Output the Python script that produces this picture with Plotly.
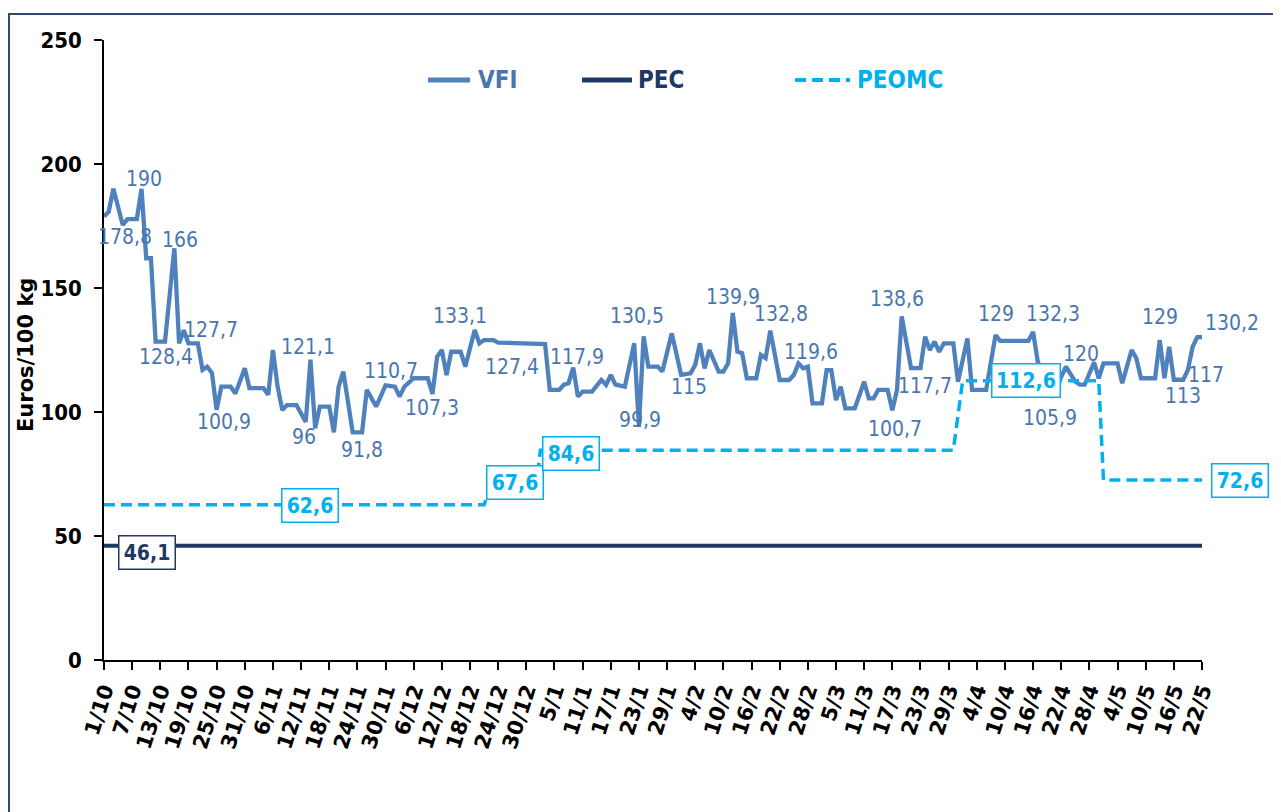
import plotly.graph_objects as go
import pandas as pd

# ---------------- data ----------------
vfi_dates = [
    "2023-10-01", "2023-10-02", "2023-10-03", "2023-10-05", "2023-10-06", "2023-10-08", "2023-10-09",
    "2023-10-10", "2023-10-11", "2023-10-12", "2023-10-14", "2023-10-16", "2023-10-17", "2023-10-18",
    "2023-10-19", "2023-10-21", "2023-10-22", "2023-10-23", "2023-10-24", "2023-10-25", "2023-10-26",
    "2023-10-28", "2023-10-29", "2023-10-31", "2023-11-01", "2023-11-04", "2023-11-05", "2023-11-06",
    "2023-11-07", "2023-11-08", "2023-11-09", "2023-11-11", "2023-11-13", "2023-11-14", "2023-11-15",
    "2023-11-16", "2023-11-18", "2023-11-19", "2023-11-20", "2023-11-21", "2023-11-23", "2023-11-25",
    "2023-11-26", "2023-11-28", "2023-11-30", "2023-12-02", "2023-12-03", "2023-12-04", "2023-12-06",
    "2023-12-09", "2023-12-10", "2023-12-11", "2023-12-12", "2023-12-13", "2023-12-14", "2023-12-16",
    "2023-12-17", "2023-12-19", "2023-12-20", "2023-12-21", "2023-12-23", "2023-12-24", "2024-01-03",
    "2024-01-04", "2024-01-06", "2024-01-07", "2024-01-08", "2024-01-09", "2024-01-10", "2024-01-11",
    "2024-01-13", "2024-01-15", "2024-01-16", "2024-01-17", "2024-01-18", "2024-01-20", "2024-01-22",
    "2024-01-23", "2024-01-24", "2024-01-25", "2024-01-27", "2024-01-28", "2024-01-30", "2024-01-31",
    "2024-02-01", "2024-02-03", "2024-02-04", "2024-02-05", "2024-02-06", "2024-02-07", "2024-02-09",
    "2024-02-10", "2024-02-11", "2024-02-12", "2024-02-13", "2024-02-14", "2024-02-15", "2024-02-17",
    "2024-02-18", "2024-02-19", "2024-02-20", "2024-02-22", "2024-02-24", "2024-02-25", "2024-02-26",
    "2024-02-27", "2024-02-28", "2024-02-29", "2024-03-02", "2024-03-03", "2024-03-04", "2024-03-05",
    "2024-03-06", "2024-03-07", "2024-03-09", "2024-03-11", "2024-03-12", "2024-03-13", "2024-03-14",
    "2024-03-16", "2024-03-17", "2024-03-18", "2024-03-19", "2024-03-21", "2024-03-23", "2024-03-24",
    "2024-03-25", "2024-03-26", "2024-03-27", "2024-03-28", "2024-03-30", "2024-03-31", "2024-04-02",
    "2024-04-03", "2024-04-06", "2024-04-08", "2024-04-09", "2024-04-15", "2024-04-16", "2024-04-17",
    "2024-04-20", "2024-04-23", "2024-04-24", "2024-04-25", "2024-04-26", "2024-04-27", "2024-04-29",
    "2024-04-30", "2024-05-01", "2024-05-04", "2024-05-05", "2024-05-07", "2024-05-08", "2024-05-09",
    "2024-05-12", "2024-05-13", "2024-05-14", "2024-05-15", "2024-05-16", "2024-05-18", "2024-05-19",
    "2024-05-20", "2024-05-21", "2024-05-22",
]
vfi_values = [
    178.8, 180.8, 190.0, 175.4, 177.8, 177.8, 190.0,
    162.0, 162.0, 128.4, 128.4, 166.0, 127.7, 133.0,
    127.7, 127.7, 117.0, 118.3, 115.7, 100.9, 110.2,
    110.2, 107.5, 117.6, 109.6, 109.6, 106.9, 125.0,
    110.2, 100.8, 102.8, 102.8, 96.0, 121.1, 93.4,
    102.2, 102.2, 91.8, 110.2, 116.3, 91.8, 91.8,
    108.9, 102.2, 110.7, 110.2, 106.2, 110.2, 113.6,
    113.6, 107.3, 122.3, 125.0, 114.9, 124.3, 124.3,
    118.3, 133.1, 127.7, 129.0, 129.0, 128.0, 127.4,
    108.9, 108.9, 111.0, 111.6, 117.9, 106.2, 108.2,
    108.2, 112.9, 111.0, 114.9, 111.0, 110.2, 127.7,
    94.0, 130.5, 118.3, 118.3, 116.3, 131.7, 122.3,
    115.0, 115.6, 119.0, 127.7, 117.6, 125.0, 116.3,
    116.3, 119.6, 139.9, 124.3, 123.7, 113.6, 113.6,
    123.0, 121.7, 132.8, 112.9, 112.9, 114.9, 119.6,
    117.6, 118.3, 103.5, 103.5, 116.9, 116.9, 104.8,
    110.2, 101.5, 101.5, 112.2, 105.5, 105.5, 108.9,
    108.9, 100.7, 108.9, 138.6, 117.7, 117.7, 130.4,
    125.0, 128.4, 124.3, 127.7, 127.7, 112.2, 129.7,
    108.9, 108.9, 131.0, 128.7, 128.7, 132.3, 120.3,
    105.9, 118.3, 114.9, 112.2, 111.0, 111.0, 120.0,
    113.6, 119.6, 119.6, 111.6, 125.0, 121.7, 113.6,
    113.6, 129.0, 113.6, 126.3, 113.0, 113.0, 117.0,
    126.3, 130.2, 130.2,
]

pec_dates = ["2023-10-01", "2024-05-22"]
pec_values = [46.1, 46.1]

peomc_dates = ["2023-10-01", "2023-12-21", "2023-12-22", "2024-01-01", "2024-01-02",
               "2024-03-30", "2024-04-01", "2024-04-30", "2024-05-01", "2024-05-22"]
peomc_values = [62.6, 62.6, 67.6, 67.6, 84.6, 84.6, 112.6, 112.6, 72.6, 72.6]

series_names = ["VFI", "PEC", "PEOMC"]
y_title = "Euros/100 kg"

# data labels of VFI: (date, text, x offset px, y offset px downwards)
vfi_label_dates = ["2023-10-01", "2023-10-09", "2023-10-16", "2023-10-14", "2023-10-19", "2023-10-25",
                   "2023-11-14", "2023-11-13", "2023-11-23", "2023-11-30", "2023-12-10", "2023-12-19",
                   "2023-12-24", "2024-01-09", "2024-01-24", "2024-01-23", "2024-02-01", "2024-02-12",
                   "2024-02-20", "2024-02-26", "2024-03-17", "2024-03-19", "2024-03-23", "2024-04-08",
                   "2024-04-16", "2024-04-29", "2024-04-20", "2024-05-13", "2024-05-18", "2024-05-19",
                   "2024-05-22"]
vfi_label_texts = ["178,8", "190", "166", "128,4", "127,7", "100,9",
                   "121,1", "96", "91,8", "110,7", "107,3", "133,1",
                   "127,4", "117,9", "130,5", "99,9", "115", "139,9",
                   "132,8", "119,6", "100,7", "138,6", "117,7", "129",
                   "132,3", "120", "105,9", "129", "113", "117",
                   "130,2"]
vfi_label_dx = [21, 2, 6, 1, 23, 7, -2, -2, 9, 5, 0, -15, 14, 4, -7, 1, 8, 0, 11, 13, 3, -5, 5, 0,
                20, -13, -2, 0, 0, 18, 30]
vfi_label_dy = [20, -10, -8, 15, -13, 12, -13, 15, 18, -14, 14, -14, 24, -11, -20, -7, 12, -16, -17, -11,
                19, -17, 18, -21, -18, -8, 21, -23, 16, 5, -14]

# boxed labels of the reference lines
box_label_series = ["PEC", "PEOMC", "PEOMC", "PEOMC", "PEOMC", "PEOMC"]
box_label_dates = ["2023-10-10", "2023-11-14", "2023-12-28", "2024-01-09", "2024-04-15", "2024-05-22"]
box_label_texts = ["46,1", "62,6", "67,6", "84,6", "112,6", "72,6"]
box_label_dx = [1, 0, -2, -2, -2, 38]
box_label_dy = [7, 1, -10, 3, 0, 1]

# ---------------- style ----------------
C_VFI = "#4F81BD"
C_VFI_TXT = "#4A76AE"
C_PEC = "#1F3864"
C_PEOMC = "#00B0F0"
COND = "DejaVu Sans Condensed, DejaVu Sans, sans-serif"
WIDE = "DejaVu Sans, sans-serif"
colors = {"VFI": C_VFI, "PEC": C_PEC, "PEOMC": C_PEOMC}

fig = go.Figure()
fig.add_trace(go.Scatter(x=pd.to_datetime(vfi_dates), y=vfi_values, mode="lines", name=series_names[0],
                         line=dict(color=C_VFI, width=4.3)))
fig.add_trace(go.Scatter(x=pd.to_datetime(pec_dates), y=pec_values, mode="lines", name=series_names[1],
                         line=dict(color=C_PEC, width=4)))
fig.add_trace(go.Scatter(x=pd.to_datetime(peomc_dates), y=peomc_values, mode="lines", name=series_names[2],
                         line=dict(color=C_PEOMC, width=3.5, dash="11px,6px")))

vfi_lookup = dict(zip(vfi_dates, vfi_values))
annotations = []
for d, t, dx, dy in zip(vfi_label_dates, vfi_label_texts, vfi_label_dx, vfi_label_dy):
    annotations.append(dict(x=d, y=vfi_lookup[d], text=t, showarrow=False, xanchor="center",
                            yanchor="middle", xshift=dx, yshift=-dy,
                            font=dict(family=COND, size=21, color=C_VFI_TXT)))
for s, d, t, dx, dy in zip(box_label_series, box_label_dates, box_label_texts, box_label_dx, box_label_dy):
    col = colors[s]
    annotations.append(dict(x=d, y=float(t.replace(",", ".")), text="<b>%s</b>" % t, showarrow=False,
                            xanchor="center", yanchor="middle", xshift=dx, yshift=-dy,
                            bgcolor="white", bordercolor=col, borderwidth=1.5, borderpad=2,
                            width=12 * len(t) + 3, height=28,
                            font=dict(family=COND, size=21, color=col)))

# plot-area pixel helpers (plot area: x 104..1202, y 40..660 in the page)
L0, PW, T0, PH = 104, 1098, 40, 620
def px(xp):
    return (xp - L0) / PW
def py(yp):
    return (T0 + PH - yp) / PH

# legend (drawn manually to match the reference layout)
legend_items = [("VFI", 428, 470, 476), ("PEC", 582, 632, 636), ("PEOMC", 795, 850, 855)]
shapes = []
for name, x0, x1, xt in legend_items:
    dash = "11px,6px" if name == "PEOMC" else "solid"
    shapes.append(dict(type="line", xref="paper", yref="paper", x0=px(x0), x1=px(x1), y0=py(80), y1=py(80),
                       line=dict(color=colors[name], width=5 if name != "PEOMC" else 4, dash=dash)))
    annotations.append(dict(xref="paper", yref="paper", x=px(xt), y=py(80), text="<b>%s</b>" % name,
                            showarrow=False, xanchor="left", yanchor="middle",
                            font=dict(family=COND, size=24,
                                      color=C_VFI_TXT if name == "VFI" else colors[name])))
# y axis title
annotations.append(dict(xref="paper", yref="paper", x=px(26), y=py(355), text="<b>%s</b>" % y_title,
                        textangle=-90, showarrow=False, xanchor="center", yanchor="middle",
                        font=dict(family=WIDE, size=21, color="black")))
# outer frame
shapes.append(dict(type="rect", xref="paper", yref="paper", x0=px(9), x1=px(1278), y0=py(830), y1=py(14),
                   line=dict(color="#2E4A6E", width=2), fillcolor="rgba(0,0,0,0)", layer="below"))

fig.update_layout(
    width=1273, height=804,
    margin=dict(l=96, r=79, t=32, b=152),
    paper_bgcolor="white", plot_bgcolor="white",
    showlegend=False,
    annotations=annotations, shapes=shapes,
    xaxis=dict(type="date", range=["2023-10-01", "2024-05-22"], tick0="2023-10-01", dtick=6 * 86400000,
               tickformat="%-d/%-m", tickangle=-72, ticks="outside", ticklen=8, tickwidth=1.5,
               tickcolor="black", showline=True, linecolor="black", linewidth=1.5, showgrid=False,
               zeroline=False, automargin=False,
               tickfont=dict(family=WIDE, size=21, color="black", weight="bold")),
    yaxis=dict(range=[0, 250], dtick=50, ticks="outside", ticklen=8, tickwidth=1.5, tickcolor="black",
               showline=True, linecolor="black", linewidth=1.5, showgrid=False, zeroline=False,
               ticklabelstandoff=8, automargin=False,
               tickfont=dict(family=COND, size=22, color="black", weight="bold")),
)

fig.write_html("out.html")
